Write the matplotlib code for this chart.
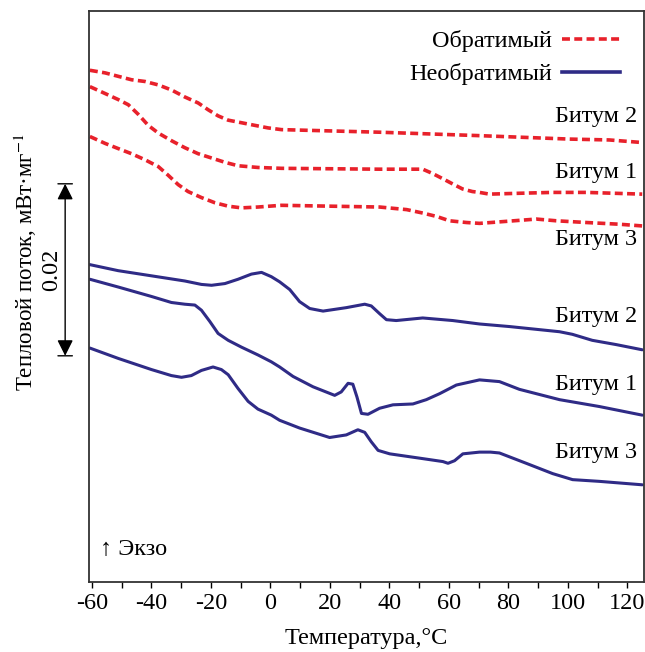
"""DSC curves of three bitumens: reversing and non-reversing heat flow."""
import matplotlib
matplotlib.use('Agg')
import matplotlib.pyplot as plt
from matplotlib.lines import Line2D

plt.rcParams['font.family'] = ['Liberation Serif', 'DejaVu Serif']
plt.rcParams['mathtext.fontset'] = 'stix'
plt.rcParams['axes.unicode_minus'] = False

# --- data: temperature (°C) and heat flow (mW/mg, arbitrary offset) ---
rev2_t = [-60.7, -55.6, -51.2, -46.7, -42.2, -37.7, -33.2, -28.8, -24.3, -20.9, -17.6, -14.2, -9.7, -5.3, -0.8,
          3.7, 36.7, 70.3, 100.5, 113.9, 125.0]
rev2_q = [0.0595, 0.0592, 0.0588, 0.0584, 0.0582, 0.0578, 0.0572, 0.0564, 0.0557, 0.0549, 0.0542, 0.0537, 0.0534,
          0.0531, 0.0528, 0.0526, 0.0523, 0.0519, 0.0515, 0.0514, 0.0511]

rev1_t = [-60.7, -55.6, -51.2, -47.8, -44.5, -41.1, -37.7, -33.2, -28.8, -24.3, -19.8, -15.3, -10.9, -4.2, 3.7,
          36.7, 51.2, 54.5, 57.9, 61.2, 64.6, 67.9, 70.3, 73.6, 83.7, 94.8, 106.2, 125.0]
rev1_q = [0.0576, 0.0568, 0.0561, 0.0555, 0.0544, 0.0531, 0.0522, 0.0513, 0.0505, 0.0498, 0.0493, 0.0488, 0.0484,
          0.0482, 0.0481, 0.0480, 0.0480, 0.0475, 0.0469, 0.0463, 0.0457, 0.0454, 0.0453, 0.0451, 0.0452, 0.0453,
          0.0453, 0.0451]

rev3_t = [-60.7, -55.6, -51.2, -46.7, -42.2, -37.7, -34.4, -31.0, -27.7, -23.2, -18.7, -14.2, -9.7, -4.2, 3.7,
          19.9, 36.7, 45.8, 51.2, 55.9, 60.2, 65.9, 70.3, 78.0, 89.4, 96.1, 106.2, 117.3, 125.0]
rev3_q = [0.0518, 0.0510, 0.0504, 0.0498, 0.0491, 0.0483, 0.0473, 0.0462, 0.0454, 0.0447, 0.0441, 0.0437, 0.0435,
          0.0436, 0.0438, 0.0437, 0.0436, 0.0433, 0.0429, 0.0425, 0.0420, 0.0418, 0.0417, 0.0419, 0.0422, 0.0420,
          0.0418, 0.0416, 0.0414]

irr2_t = [-60.7, -51.2, -40.0, -28.8, -23.2, -19.8, -15.3, -10.9, -6.4, -3.0, 0.3, 3.1, 6.5, 9.8, 13.2, 17.7,
          25.5, 31.7, 33.9, 36.7, 39.0, 42.3, 51.2, 61.3, 70.3, 80.4, 97.2, 101.5, 108.2, 116.3, 125.0]
irr2_q = [0.0369, 0.0362, 0.0356, 0.0350, 0.0346, 0.0345, 0.0347, 0.0352, 0.0358, 0.0360, 0.0355, 0.0349, 0.0340,
          0.0326, 0.0318, 0.0315, 0.0319, 0.0323, 0.0321, 0.0312, 0.0305, 0.0304, 0.0307, 0.0304, 0.0300, 0.0297,
          0.0291, 0.0288, 0.0281, 0.0276, 0.0270]

irr1_t = [-60.7, -51.2, -40.0, -33.3, -28.8, -25.4, -23.2, -20.4, -17.6, -14.2, -9.7, -4.2, 0.3, 3.1, 7.6, 14.3,
          21.6, 23.8, 26.1, 27.7, 29.1, 30.6, 32.8, 36.7, 41.2, 47.9, 52.4, 56.9, 62.5, 70.3, 77.0, 83.7, 97.2,
          110.6, 125.0]
irr1_q = [0.0352, 0.0343, 0.0332, 0.0325, 0.0323, 0.0322, 0.0316, 0.0303, 0.0289, 0.0281, 0.0273, 0.0264, 0.0256,
          0.0250, 0.0239, 0.0227, 0.0217, 0.0221, 0.0231, 0.0230, 0.0215, 0.0196, 0.0195, 0.0202, 0.0206, 0.0207,
          0.0212, 0.0219, 0.0229, 0.0235, 0.0233, 0.0224, 0.0212, 0.0204, 0.0194]

irr3_t = [-60.7, -51.2, -40.0, -33.3, -29.9, -26.6, -23.2, -19.3, -16.5, -14.2, -10.9, -7.5, -4.2, 0.3, 3.1, 9.8,
          19.9, 25.5, 29.4, 31.7, 33.9, 36.2, 40.1, 50.1, 58.0, 59.7, 61.9, 64.7, 70.3, 74.0, 77.0, 86.0, 94.9,
          101.6, 110.6, 125.0]
irr3_q = [0.0272, 0.0260, 0.0247, 0.0240, 0.0238, 0.0240, 0.0246, 0.0250, 0.0247, 0.0241, 0.0225, 0.0210, 0.0201,
          0.0194, 0.0188, 0.0179, 0.0168, 0.0171, 0.0177, 0.0174, 0.0163, 0.0153, 0.0149, 0.0144, 0.0140, 0.0138,
          0.0141, 0.0149, 0.0151, 0.0151, 0.0150, 0.0138, 0.0126, 0.0119, 0.0117, 0.0113]

curve_names = ['Битум 2', 'Битум 1', 'Битум 3']
legend_labels = ['Обратимый', 'Необратимый']
x_ticks = [-60, -40, -20, 0, 20, 40, 60, 80, 100, 120]
scale_bar = 0.02

RED = '#e8212b'
NAVY = '#2f2b86'
FS = 17.5

fig = plt.figure(figsize=(6.45, 6.52), dpi=100)
ax = fig.add_axes([0.138, 0.1074, 0.860, 0.8758])

for t, q in [(rev2_t, rev2_q), (rev1_t, rev1_q), (rev3_t, rev3_q)]:
    ax.plot(t, q, color=RED, lw=2.6, dashes=(2.2, 1.2))
for t, q in [(irr2_t, irr2_q), (irr1_t, irr1_q), (irr3_t, irr3_q)]:
    ax.plot(t, q, color=NAVY, lw=2.2, solid_joinstyle='round', solid_capstyle='round')

ax.set_xlim(-61, 125.5)
ax.set_ylim(0, 0.0664)
ax.set_xticks(x_ticks)
ax.set_xticks(range(-50, 125, 20), minor=True)
ax.set_yticks([])
ax.tick_params(axis='x', which='both', direction='out', length=4, width=1, labelsize=FS, pad=4)
for s in ax.spines.values():
    s.set_linewidth(1.3)
    s.set_color('#333333')
ax.set_xlabel('Температура,°C', fontsize=FS, labelpad=10)

# curve labels
for name, y in zip(curve_names, [0.0541, 0.0476, 0.0398]):
    ax.text(123.3, y, name, ha='right', va='center', fontsize=FS)
for name, y in zip(curve_names, [0.0309, 0.0230, 0.0151]):
    ax.text(123.3, y, name, ha='right', va='center', fontsize=FS)

handles = [Line2D([], [], color=RED, lw=2.6, dashes=(2.2, 1.2)),
           Line2D([], [], color=NAVY, lw=2.6)]
ax.legend(handles, legend_labels, loc='upper right', bbox_to_anchor=(0.957, 0.966), frameon=False,
          markerfirst=False, fontsize=FS, handlelength=2.4, handletextpad=0.4, labelspacing=0.45,
          borderpad=0, borderaxespad=0)

ax.text(0.02, 0.056, '↑ Экзо', transform=ax.transAxes, ha='left', va='center', fontsize=FS,
        family=['Liberation Serif', 'DejaVu Sans'])

# scale bar outside the left spine
y0 = 0.0263
y1 = y0 + scale_bar
ax.annotate('', xy=(-0.043, y1), xytext=(-0.043, y0), xycoords=('axes fraction', 'data'),
            textcoords=('axes fraction', 'data'),
            arrowprops=dict(arrowstyle='<|-|>', color='black', lw=1.0, mutation_scale=24, shrinkA=0, shrinkB=0))
for y in (y0, y1):
    ax.annotate('', xy=(-0.056, y), xytext=(-0.030, y), xycoords=('axes fraction', 'data'),
                textcoords=('axes fraction', 'data'),
                arrowprops=dict(arrowstyle='-', color='black', lw=1.0, shrinkA=0, shrinkB=0))
ax.text(-0.068, (y0 + y1) / 2, '0.02', transform=ax.get_yaxis_transform(), rotation=90,
        ha='center', va='center', fontsize=FS)

fig.text(25 / 645, 1 - 262 / 652, 'Тепловой поток, мВт·мг$^{-1}$', rotation=90, ha='center', va='center',
         fontsize=16.5)

fig.savefig('out.png', dpi=100)
